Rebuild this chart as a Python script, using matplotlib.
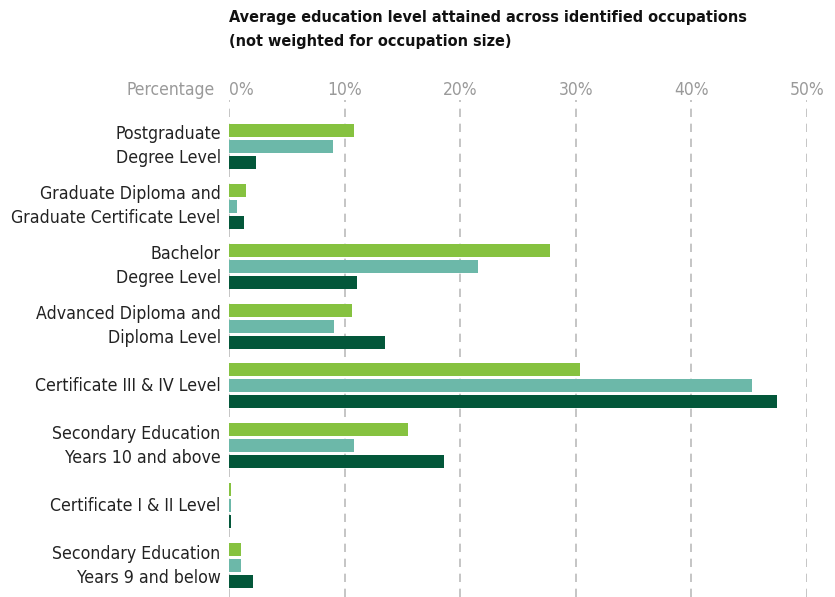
import matplotlib
matplotlib.use("Agg")
import matplotlib.pyplot as plt
import numpy as np

# narrow face, falls back to regular DejaVu when the condensed file is absent
plt.rcParams["font.family"] = ["DejaVu Sans"]
plt.rcParams["font.stretch"] = "condensed"

categories = [
    "Postgraduate\nDegree Level",
    "Graduate Diploma and\nGraduate Certificate Level",
    "Bachelor\nDegree Level",
    "Advanced Diploma and\nDiploma Level",
    "Certificate III & IV Level",
    "Secondary Education\nYears 10 and above",
    "Certificate I & II Level",
    "Secondary Education\nYears 9 and below",
]
series_a = [10.8, 1.5, 27.8, 10.6, 30.4, 15.5, 0.2, 1.0]
series_b = [9.0, 0.7, 21.5, 9.1, 45.2, 10.8, 0.2, 1.0]
series_c = [2.3, 1.3, 11.1, 13.5, 47.4, 18.6, 0.2, 2.1]
ticks = [0, 10, 20, 30, 40, 50]

colors = ["#86c240", "#6cb8a9", "#03573a"]

fig = plt.figure(figsize=(8.35, 5.97), dpi=100)
ax = fig.add_axes([229 / 835, 0, (807 - 229) / 835, 497 / 597])

y = np.arange(len(categories))
step = 16 / 60
h = 13 / 60
for i, (vals, c) in enumerate(zip([series_a, series_b, series_c], colors)):
    ax.barh(y + (i - 1) * step, vals, height=h, color=c, zorder=3)

ax.set_xlim(0, 50)
ax.set_ylim(len(categories) - 1 + 0.517, -0.767)
ax.xaxis.tick_top()
ax.set_xticks(ticks)
ax.set_xticklabels([f"{t}%" for t in ticks], color="#9a9a9a", fontsize=12.5)
ax.get_xticklabels()[0].set_ha("left")
ax.tick_params(axis="x", length=0, pad=1)
ax.set_yticks(y)
ax.set_yticklabels(categories, fontsize=12.7, color="#222222", ha="right",
                   va="center", linespacing=1.42)
ax.tick_params(axis="y", length=0, pad=6)
for s in ax.spines.values():
    s.set_visible(False)
ax.grid(axis="x", color="#bbbbbb", linestyle=(0, (5, 4)), linewidth=1.2, zorder=0)

fig.text(215 / 835, 1 - 90 / 597, "Percentage", ha="right", va="center",
         color="#9a9a9a", fontsize=12.5)
fig.text(229 / 835, 1 - 10 / 597,
         "Average education level attained across identified occupations\n(not weighted for occupation size)",
         ha="left", va="top", fontsize=11.6, fontweight="bold", color="#111111", linespacing=1.75)

fig.savefig("out.png", dpi=100)
